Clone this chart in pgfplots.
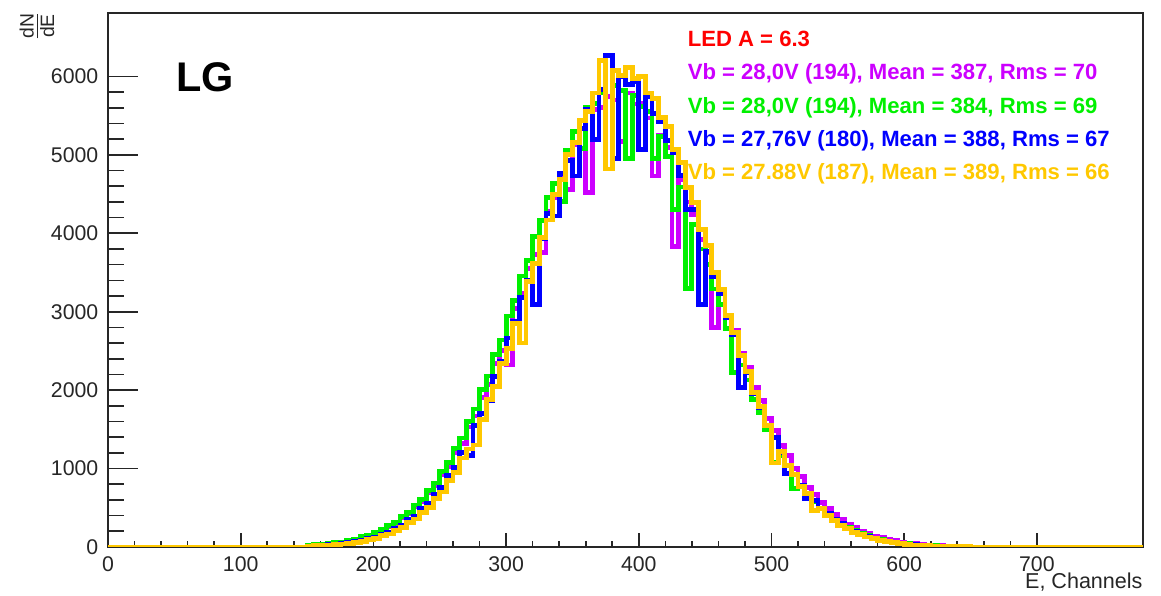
\documentclass[border=0pt]{standalone}
\usepackage{pgfplots}
\pgfplotsset{compat=1.18}
\usepackage{fontspec}
\setmainfont{Liberation Sans}
\definecolor{cMag}{RGB}{204,0,255}
\definecolor{cGrn}{RGB}{0,240,0}
\definecolor{cBlu}{RGB}{0,0,255}
\definecolor{cGld}{RGB}{255,200,0}
\definecolor{cRed}{RGB}{255,0,0}
\begin{document}
\begin{tikzpicture}
\begin{axis}[
  scale only axis, width=374.7pt, height=193.3pt,
  xmin=0, xmax=780, ymin=0, ymax=6810,
  xtick={0,100,200,300,400,500,600,700},
  xticklabels={0,100,200,300,400,500,600,700},
  minor x tick num=4, ytick=\empty,
  tick align=inside, tick pos=left,
  major tick length=5pt, minor tick length=2.2pt,
  axis line style={draw=none},
  every tick/.style={black!85, line width=0.6pt},
  xticklabel style={font=\fontsize{7.7}{8}\selectfont, text=black!85},
]
\end{axis}
\begin{axis}[
  scale only axis, width=374.7pt, height=193.3pt,
  xmin=0, xmax=780, ymin=0, ymax=6810,
  xtick=\empty,
  ytick={0,1000,2000,3000,4000,5000,6000},
  yticklabels={0,1000,2000,3000,4000,5000,6000},
  minor y tick num=4,
  tick align=inside, tick pos=left,
  major tick length=10.9pt, minor tick length=5.7pt,
  axis line style={line width=0.6pt, black!85},
  every tick/.style={black!85, line width=0.6pt},
  yticklabel style={font=\fontsize{7.7}{8}\selectfont, text=black!85},
  every axis plot/.append style={const plot, line width=1.75pt, mark=none},
]
\addplot[cMag] coordinates {(0,0)(150,21)(155,26)(160,36)(165,41)(170,55)(175,63)(180,84)(185,97)(190,125)(195,144)(200,182)(205,211)(210,262)(215,300)(220,371)(225,422)(230,511)(235,580)(240,695)(245,778)(250,921)(255,1025)(260,1200)(265,1322)(270,1530)(275,1670)(280,1910)(285,2070)(290,2340)(295,2510)(300,2320)(305,3040)(310,3230)(315,3550)(320,3730)(325,3750)(330,4280)(335,4450)(340,4740)(345,4560)(350,5130)(355,5080)(360,4525)(365,5580)(370,5600)(375,5740)(380,5700)(385,5170)(390,5790)(395,5650)(400,5660)(405,5470)(410,4730)(415,5250)(420,5090)(425,3830)(430,4690)(435,4400)(440,4240)(445,3920)(450,3750)(455,2800)(460,3250)(465,2940)(470,2760)(475,2470)(480,2290)(485,2030)(490,1870)(495,1635)(500,1490)(505,1295)(510,1170)(515,1000)(520,895)(525,760)(530,672)(535,565)(540,495)(545,410)(550,356)(555,292)(560,252)(565,204)(570,175)(575,140)(580,118)(585,94)(590,78)(595,62)(600,51)(605,40)(610,32)(615,25)(620,20)(625,16)(630,12)(635,10)(640,7)(645,6)(650,0)(780,0)};
\addplot[cGrn] coordinates {(0,0)(150,22)(155,26)(160,35)(165,42)(170,55)(175,64)(180,85)(185,99)(190,128)(195,149)(200,189)(205,218)(210,272)(215,312)(220,385)(225,440)(230,535)(235,605)(240,725)(245,815)(250,965)(255,1075)(260,1260)(265,1390)(270,1605)(275,1760)(280,2005)(285,2180)(290,2455)(295,2640)(300,2945)(305,3140)(310,3455)(315,3650)(320,3960)(325,4160)(330,4460)(335,4640)(340,4410)(345,5060)(350,5300)(355,5080)(360,5600)(365,5660)(370,5800)(375,4820)(380,5880)(385,5820)(390,4950)(395,5760)(400,5620)(405,5550)(410,4950)(415,5230)(420,4980)(425,4300)(430,4590)(435,3300)(440,4110)(445,3800)(450,3600)(455,3290)(460,3090)(465,2790)(470,2220)(475,2320)(480,2130)(485,1880)(490,1715)(495,1500)(500,1080)(505,1170)(510,1045)(515,740)(520,790)(525,665)(530,583)(535,488)(540,422)(545,350)(550,300)(555,246)(560,208)(565,168)(570,141)(575,114)(580,94)(585,75)(590,62)(595,49)(600,39)(605,31)(610,24)(615,19)(620,15)(625,12)(630,9)(635,7)(640,5)(645,4)(650,0)(780,0)};
\addplot[cBlu] coordinates {(0,0)(150,12)(155,17)(160,20)(165,27)(170,33)(175,45)(180,53)(185,70)(190,82)(195,107)(200,126)(205,162)(210,189)(215,240)(220,276)(225,346)(230,395)(235,488)(240,552)(245,674)(250,758)(255,910)(260,1015)(265,1200)(270,1170)(275,1545)(280,1705)(285,1870)(290,2175)(295,2370)(300,2665)(305,2870)(310,3180)(315,3395)(320,3090)(325,3930)(330,4250)(335,4220)(340,4760)(345,4930)(350,4730)(355,5340)(360,5580)(365,5200)(370,5830)(375,6270)(380,4950)(385,6000)(390,5900)(395,5930)(400,5070)(405,5740)(410,5530)(415,5430)(420,5180)(425,5030)(430,4740)(435,4300)(440,4300)(445,3090)(450,3770)(455,3450)(460,3230)(465,2920)(470,2710)(475,2030)(480,2220)(485,1960)(490,1780)(495,1550)(500,1395)(505,1200)(510,940)(515,930)(520,785)(525,615)(530,590)(535,488)(540,422)(545,346)(550,295)(555,240)(560,202)(565,162)(570,135)(575,108)(580,89)(585,70)(590,57)(595,45)(600,35)(605,28)(610,22)(615,17)(620,13)(625,10)(630,8)(635,6)(640,4)(645,3)(650,0)(780,0)};
\addplot[cGld] coordinates {(0,0)(150,10)(155,14)(160,16)(165,23)(170,27)(175,38)(180,44)(185,59)(190,70)(195,93)(200,109)(205,142)(210,165)(215,212)(220,246)(225,310)(230,357)(235,443)(240,505)(245,620)(250,700)(255,848)(260,945)(265,1135)(270,1250)(275,1300)(280,1620)(285,1880)(290,2050)(295,2340)(300,2530)(305,2850)(310,2600)(315,3390)(320,3610)(325,3950)(330,4170)(335,4500)(340,4690)(345,5000)(350,5160)(355,5440)(360,5550)(365,5790)(370,6200)(375,4820)(380,6080)(385,6010)(390,6110)(395,5970)(400,6000)(405,5790)(410,5720)(415,5480)(420,5360)(425,5070)(430,4900)(435,4580)(440,4390)(445,4050)(450,3840)(455,3500)(460,3280)(465,2950)(470,2740)(475,2440)(480,2240)(485,1965)(490,1790)(495,1550)(500,1070)(505,1220)(510,1040)(515,920)(520,775)(525,678)(530,460)(535,488)(540,400)(545,342)(550,278)(555,234)(560,189)(565,157)(570,126)(575,103)(580,81)(585,66)(590,52)(595,41)(600,32)(605,25)(610,20)(615,15)(620,12)(625,9)(630,7)(635,5)(640,4)(645,3)(650,0)(780,0)};
\node[font=\bfseries\fontsize{15}{16}\selectfont, inner sep=0] at (axis cs:73,5995) {LG};
\node[anchor=base west, inner sep=0, text=cRed, font=\bfseries\fontsize{8}{9}\selectfont] at (axis cs:436.5,6381) {LED A = 6.3};
\node[anchor=base west, inner sep=0, text=cMag, font=\bfseries\fontsize{8}{9}\selectfont] at (axis cs:436.5,5957) {Vb = 28,0V (194), Mean = 387, Rms = 70};
\node[anchor=base west, inner sep=0, text=cGrn, font=\bfseries\fontsize{8}{9}\selectfont] at (axis cs:436.5,5532) {Vb = 28,0V (194), Mean = 384, Rms = 69};
\node[anchor=base west, inner sep=0, text=cBlu, font=\bfseries\fontsize{8}{9}\selectfont] at (axis cs:436.5,5106) {Vb = 27,76V (180), Mean = 388, Rms = 67};
\node[anchor=base west, inner sep=0, text=cGld, font=\bfseries\fontsize{8}{9}\selectfont] at (axis cs:436.5,4681) {Vb = 27.88V (187), Mean = 389, Rms = 66};
\coordinate (bl) at (rel axis cs:0,0);
\coordinate (br) at (rel axis cs:1,0);
\coordinate (tl) at (rel axis cs:0,1);
\coordinate (tr) at (rel axis cs:1,1);
\end{axis}
\node[anchor=base east, inner sep=0, font=\fontsize{7.8}{9}\selectfont, text=black!85] at ([yshift=-15.2pt]br) {E, Channels};
\node[rotate=90, inner sep=0, text=black!85] at ([shift={(-25.7pt,-4.7pt)}]tl) {$\frac{\hbox{\fontsize{7}{7}\selectfont dN}}{\hbox{\fontsize{7}{7}\selectfont dE}}$};
\pgfresetboundingbox
\path ([shift={(-39.1pt,-17.7pt)}]bl) rectangle ([shift={(6.5pt,4.7pt)}]tr);
\end{tikzpicture}
\end{document}
